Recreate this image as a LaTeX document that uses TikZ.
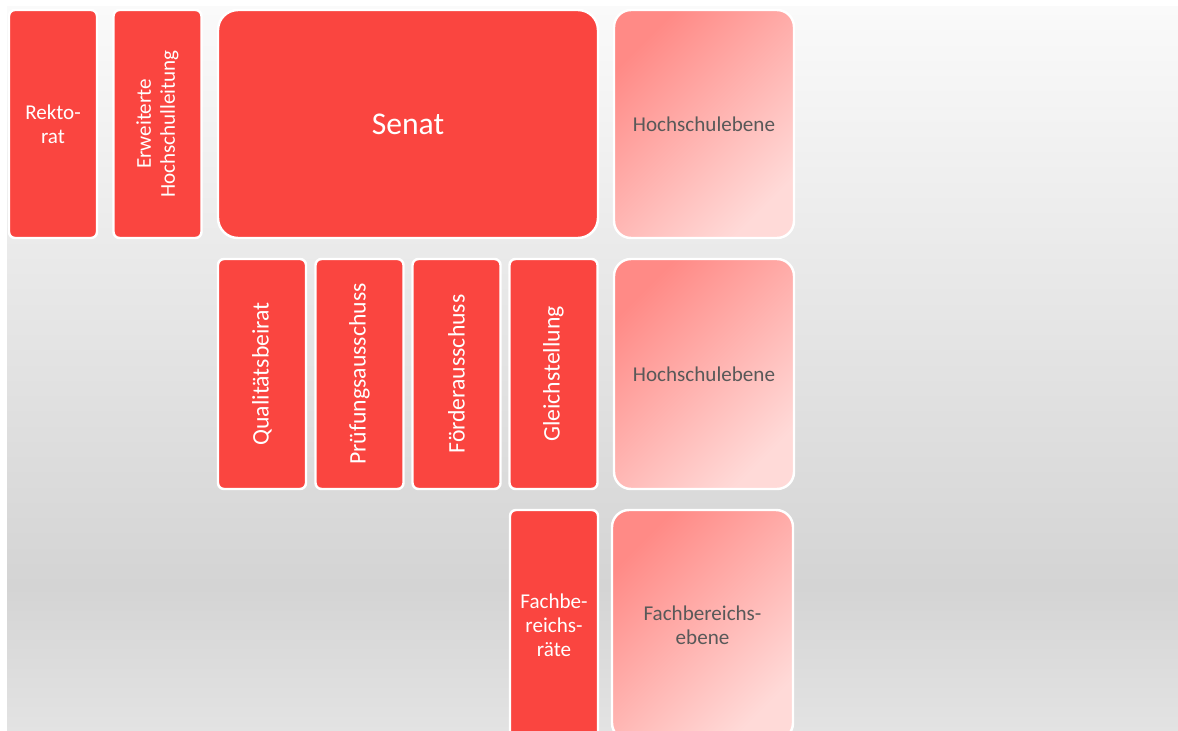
\documentclass[tikz,border=0pt]{standalone}
\usepackage{fontspec}
\setmainfont{Carlito}
\usetikzlibrary{positioning}

\definecolor{gremiumrot}{HTML}{FA4540}
\definecolor{ebenedunkel}{HTML}{FF8A86}
\definecolor{ebenehell}{HTML}{FFDAD8}
\definecolor{ebenetext}{HTML}{595959}
\definecolor{bgtop}{HTML}{FAFAFA}
\definecolor{bgmid}{HTML}{D4D4D4}
\definecolor{bgbot}{HTML}{E3E3E3}

\pgfdeclareverticalshading{hintergrund}{100bp}{color(0bp)=(bgbot); color(25bp)=(bgbot); color(35bp)=(bgmid); color(75bp)=(bgtop); color(100bp)=(bgtop)}

\begin{document}
\begin{tikzpicture}[
    % Gremium
    gremium/.style={
        draw=white,
        line width=1.4pt,
        fill=gremiumrot,
        rounded corners=0.12cm,
        text=white,
        align=center,
        inner sep=0pt,
        minimum width=1.76cm,
        minimum height=4.56cm,
        font=\fontsize{12}{13.6}\selectfont
    },
    % Gremium, Text hochkant
    hochkant/.style={
        gremium,
        rotate=90,
        minimum width=4.6cm,
        minimum height=1.76cm,
        font=\fontsize{13.5}{13.6}\selectfont
    },
    % Ebene
    ebene/.style={
        draw=white,
        line width=1.4pt,
        rounded corners=0.34cm,
        top color=ebenedunkel,
        bottom color=ebenehell,
        shading angle=45,
        text=ebenetext,
        align=center,
        inner sep=0pt,
        minimum width=3.6cm,
        minimum height=4.6cm,
        font=\fontsize{12}{13.6}\selectfont
    }
]

\useasboundingbox (0,0) rectangle (23.56,-14.62);
\clip (0,0) rectangle (23.56,-14.62);

% Background
\shade[shading=hintergrund] (0.14,-0.14) rectangle (23.56,-14.62);

% Obere Reihe
\node[gremium] (rektorat) at (1.06,-2.48) {Rekto-\\rat};
\node[hochkant, minimum width=4.56cm, font=\fontsize{12}{13.6}\selectfont] (ehl) at (3.15,-2.48) {Erweiterte\\Hochschulleitung};
\node[gremium, minimum width=7.6cm, rounded corners=0.4cm, font=\fontsize{18}{20}\selectfont] (senat) at (8.16,-2.48) {Senat};
\node[ebene, minimum height=4.56cm] (ebene1) at (14.08,-2.48) {Hochschulebene};

% Ausschuesse
\node[hochkant] (qualitaet) at (5.24,-7.48) {Qualitätsbeirat};
\node[hochkant] (pruefung) at (7.19,-7.48) {Prüfungsausschuss};
\node[hochkant] (foerder) at (9.13,-7.48) {Förderausschuss};
\node[hochkant] (gleich) at (11.07,-7.48) {Gleichstellung};
\node[ebene] (ebene2) at (14.08,-7.48) {Hochschulebene};

% Fachbereiche
\node[gremium, minimum height=4.6cm] (fbr) at (11.08,-12.5) {Fachbe-\\reichs-\\räte};
\node[ebene, minimum width=3.62cm] (ebene3) at (14.05,-12.5) {Fachbereichs-\\ebene};

\end{tikzpicture}
\end{document}
